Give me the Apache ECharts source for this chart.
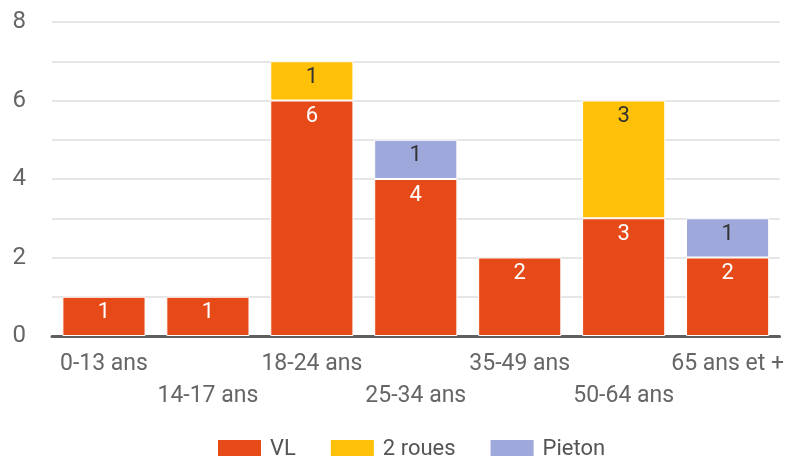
<!DOCTYPE html>
<html>
<head>
<meta charset="utf-8">
<script src="https://cdn.jsdelivr.net/npm/echarts@6/dist/echarts.min.js"></script>
<style>
  html, body { margin: 0; padding: 0; background: #fff; }
  #chart { width: 787px; height: 456px; }
</style>
</head>
<body>
<div id="chart"></div>
<script>
// Age groups on the x axis
const categories = ['0-13 ans', '14-17 ans', '18-24 ans', '25-34 ans', '35-49 ans', '50-64 ans', '65 ans et +'];

// Counts per vehicle type (null = nothing stacked)
const vlValues = [1, 1, 6, 4, 2, 3, 2];
const deuxRouesValues = [null, null, 1, null, null, 3, null];
const pietonValues = [null, null, null, 1, null, null, 1];

const yTicks = { min: 0, max: 8, interval: 2 };

const chart = echarts.init(document.getElementById('chart'));

function barSeries(name, data, color, labelColor) {
  return {
    name: name,
    type: 'bar',
    stack: 'total',
    barWidth: '80%',
    data: data,
    itemStyle: { color: color, borderColor: '#fff', borderWidth: 1 },
    label: {
      show: true,
      position: 'insideTop',
      distance: 5,
      color: labelColor,
      fontSize: 22,
      fontFamily: 'Roboto'
    }
  };
}

const option = {
  animation: false,
  textStyle: { fontFamily: 'Roboto' },
  grid: { left: 52, right: 7, top: 22, bottom: 120 },
  legend: {
    top: 433,
    left: 211,
    icon: 'rect',
    itemWidth: 45,
    itemHeight: 21,
    itemGap: 33,
    textStyle: { fontSize: 22, color: '#555', fontFamily: 'Roboto', padding: [0, 0, 0, 3] }
  },
  xAxis: {
    type: 'category',
    data: categories,
    axisTick: { show: false },
    axisLine: { lineStyle: { color: '#5f5f5f', width: 3 } },
    axisLabel: {
      interval: 0,
      margin: 12,
      fontSize: 23,
      lineHeight: 32,
      color: '#666',
      formatter: function (value, idx) {
        return idx % 2 === 1 ? '\n' + value : value;
      }
    }
  },
  yAxis: {
    type: 'value',
    min: yTicks.min,
    max: yTicks.max,
    interval: yTicks.interval,
    axisLine: { show: false },
    axisTick: { show: false },
    axisLabel: { fontSize: 24, color: '#666', margin: 26 },
    splitLine: { lineStyle: { color: '#e6e6e6', width: 2 } },
    minorTick: { show: false, splitNumber: 2 },
    minorSplitLine: { show: true, lineStyle: { color: '#e6e6e6', width: 2 } }
  },
  series: [
    barSeries('VL', vlValues, '#E64A19', '#fff'),
    barSeries('2 roues', deuxRouesValues, '#FFC107', '#333'),
    barSeries('Pieton', pietonValues, '#9FA8DA', '#333')
  ]
};

chart.setOption(option);
</script>
</body>
</html>
